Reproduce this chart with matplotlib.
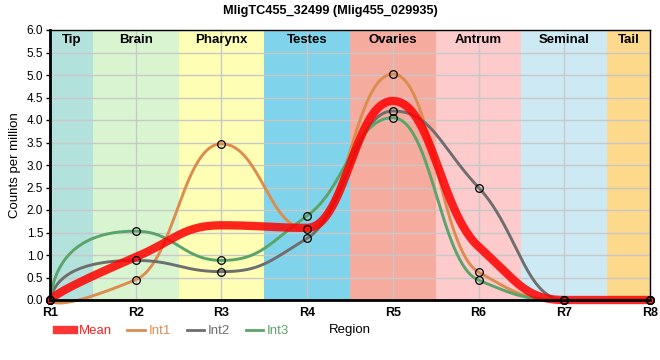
import numpy as np
import matplotlib
matplotlib.use('Agg')
import matplotlib.pyplot as plt
from matplotlib.lines import Line2D

plt.rcParams['font.family'] = ['Liberation Sans', 'DejaVu Sans']

# data
regions = ['R1', 'R2', 'R3', 'R4', 'R5', 'R6', 'R7', 'R8']
int1 = [0.0, 0.45, 3.47, 1.57, 5.02, 0.62, 0.0, 0.0]
int2 = [0.0, 0.88, 0.63, 1.37, 4.20, 2.50, 0.0, 0.0]
int3 = [0.0, 1.53, 0.88, 1.87, 4.05, 0.44, 0.0, 0.0]
mean = list(np.mean([int1, int2, int3], axis=0))

bands = ['Tip', 'Brain', 'Pharynx', 'Testes', 'Ovaries', 'Antrum', 'Seminal', 'Tail']
band_edges = [0, 0.5, 1.5, 2.5, 3.5, 4.5, 5.5, 6.5, 7]
band_colors = ['#b3e2dd', '#d9f5d0', '#feffb5', '#7fd3ea', '#f5ab9e', '#fdcbcc', '#cdeaf4', '#fdd98b']


def smooth(xs, ys, n=60, a_end=0.9, a_mid=0.45):
    xs = np.asarray(xs, float)
    ys = np.asarray(ys, float)
    h = np.diff(xs)
    s = np.diff(ys) / h
    m = np.zeros(len(xs))
    for i in range(1, len(xs) - 1):
        if s[i - 1] * s[i] > 0:
            m[i] = 2 / (1 / s[i - 1] + 1 / s[i])
    t = np.linspace(0, 1, n)
    px, py = [], []
    last = len(xs) - 2
    for i in range(len(xs) - 1):
        x0, y0, x1, y1 = xs[i], ys[i], xs[i + 1], ys[i + 1]
        if i == 0 or i == last:
            if i == 0:
                cx, cy = x1 - a_end * h[i], y1 - a_end * h[i] * m[i + 1]
            else:
                cx, cy = x0 + a_end * h[i], y0 + a_end * h[i] * m[i]
            bx = (1 - t) ** 2 * x0 + 2 * (1 - t) * t * cx + t ** 2 * x1
            by = (1 - t) ** 2 * y0 + 2 * (1 - t) * t * cy + t ** 2 * y1
        else:
            d = a_mid * h[i]
            c1x, c1y = x0 + d, y0 + m[i] * d
            c2x, c2y = x1 - d, y1 - m[i + 1] * d
            bx = ((1 - t) ** 3 * x0 + 3 * (1 - t) ** 2 * t * c1x
                  + 3 * (1 - t) * t ** 2 * c2x + t ** 3 * x1)
            by = ((1 - t) ** 3 * y0 + 3 * (1 - t) ** 2 * t * c1y
                  + 3 * (1 - t) * t ** 2 * c2y + t ** 3 * y1)
        px.extend(bx)
        py.extend(by)
    return np.array(px), np.array(py)


x = np.arange(len(regions))

fig = plt.figure(figsize=(6.6, 3.6), dpi=100)
ax = fig.add_axes([50 / 660, 60 / 360, 600 / 660, 270 / 360])

# background bands
for i, name in enumerate(bands):
    ax.axvspan(band_edges[i], band_edges[i + 1], color=band_colors[i], lw=0, zorder=0)
    ax.text((band_edges[i] + band_edges[i + 1]) / 2, 5.78, name, ha='center', va='center',
            fontsize=9.5, fontweight='bold', zorder=5)

ax.set_axisbelow(False)
ax.grid(True, color='#c8c8c8', lw=1, zorder=1)

series = [('Int1', int1, '#dd8c50'), ('Int2', int2, '#6e6e6e'), ('Int3', int3, '#5aa469')]
for name, vals, col in series:
    sx, sy = smooth(x, vals)
    ax.plot(sx, sy, color=col, lw=2.1, zorder=3, clip_on=False, solid_capstyle='round')

mx, my = smooth(x, mean)
ax.plot(mx, my, color='#ff0000', lw=6, alpha=0.85, zorder=4, clip_on=False,
        solid_capstyle='round')

for name, vals, col in series:
    ax.plot(x, vals, 'o', ms=5.5, mfc='none', mec='black', mew=0.9, zorder=6, clip_on=False)

ax.set_xlim(0, 7)
ax.set_ylim(0, 6)
ax.set_xticks(x)
ax.set_xticklabels(regions, fontweight='bold', fontsize=9)
ax.set_yticks(np.arange(0, 6.01, 0.5))
ax.set_yticklabels(['%.1f' % v for v in np.arange(0, 6.01, 0.5)], fontsize=8.5)
ax.tick_params(axis='x', length=0, pad=5)
ax.tick_params(axis='y', length=3, width=1, pad=2)

for side in ['left', 'bottom']:
    ax.spines[side].set_linewidth(2)
for side in ['top', 'right']:
    ax.spines[side].set_linewidth(1)
for sp in ax.spines.values():
    sp.set_zorder(7)

ax.set_ylabel('Counts per million', fontsize=9.5)
ax.set_xlabel('Region', fontsize=9.5, labelpad=4)

fig.suptitle('MligTC455_32499 (Mlig455_029935)', fontsize=9.2, fontweight='bold', y=0.985)

handles = [Line2D([], [], color='#ff2020', lw=6, alpha=0.9)]
handles += [Line2D([], [], color=col, lw=2) for _, _, col in series]
labels = ['Mean'] + [n for n, _, _ in series]
fig.legend(handles, labels, loc='center left', bbox_to_anchor=(52 / 660, 1 - 331 / 360),
           ncol=4, frameon=False, fontsize=9.5, labelcolor='linecolor',
           handlelength=1.3, handletextpad=0.3, columnspacing=1.2, borderaxespad=0)

fig.savefig('out.png', dpi=100)
